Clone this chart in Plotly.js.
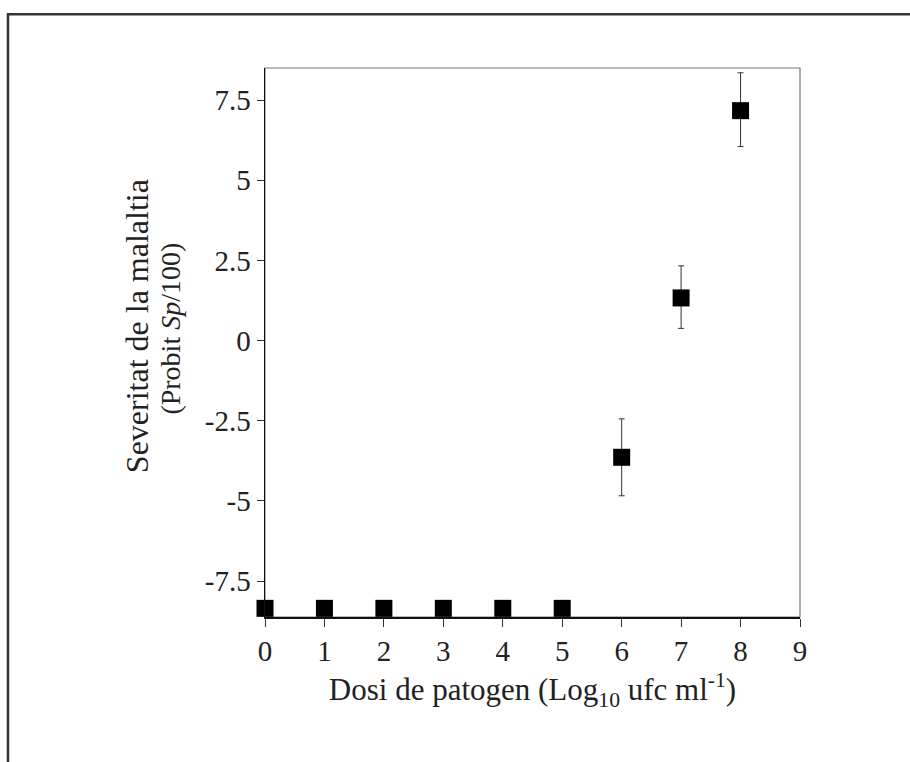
<!DOCTYPE html>
<html>
<head>
<meta charset="utf-8">
<script src="https://cdn.plot.ly/plotly-3.0.1.min.js"></script>
<style>html,body{margin:0;padding:0;background:#fff;}#chart{width:910px;height:762px;}</style>
</head>
<body>
<div id="chart"></div>
<script>
var dose = [0, 1, 2, 3, 4, 5, 6, 7, 8];
var severity = [-8.35, -8.35, -8.35, -8.35, -8.35, -8.35, -3.64, 1.33, 7.17];
var errUp = [0, 0, 0, 0, 0, 0, 1.2, 1.0, 1.18];
var errDown = [0, 0, 0, 0, 0, 0, 1.2, 0.95, 1.12];
var xTicks = [0, 1, 2, 3, 4, 5, 6, 7, 8, 9];
var yTicks = [-7.5, -5, -2.5, 0, 2.5, 5, 7.5];
var yTickText = ['-7.5', '-5', '-2.5', '0', '2.5', '5', '7.5'];

var serif = '"Liberation Serif", "Times New Roman", serif';

var trace = {
  x: dose, y: severity, type: 'scatter', mode: 'markers',
  marker: {symbol: 'square', size: 17, color: '#000'},
  error_y: {type: 'data', symmetric: false, array: errUp, arrayminus: errDown,
            color: '#333', thickness: 1, width: 3},
  cliponaxis: false, showlegend: false
};

var layout = {
  width: 910, height: 762,
  margin: {l: 265, r: 110, t: 68, b: 145},
  paper_bgcolor: '#fff', plot_bgcolor: '#fff',
  font: {family: serif, size: 28, color: '#222'},
  xaxis: {
    range: [0, 9], tickvals: xTicks, ticktext: xTicks.map(String),
    showgrid: false, zeroline: false, showline: true, linecolor: '#111', linewidth: 1.5,
    ticks: 'outside', ticklen: 8, tickwidth: 1, tickcolor: '#333',
    tickfont: {family: serif, size: 29, color: '#222'},
    title: {text: 'Dosi de patogen (Log<sub>10</sub> ufc ml<sup>-1</sup>)', font: {family: serif, size: 31, color: '#222'}, standoff: 12}
  },
  yaxis: {
    range: [-8.62, 8.5], tickvals: yTicks, ticktext: yTickText,
    showgrid: false, zeroline: false, showline: true, linecolor: '#111', linewidth: 1.5,
    ticks: 'outside', ticklen: 7, tickwidth: 1, tickcolor: '#333',
    tickfont: {family: serif, size: 29, color: '#222'}
  },
  shapes: [
    {type: 'rect', xref: 'paper', yref: 'paper', x0: 0, x1: 1, y0: 0, y1: 1,
     line: {color: '#777', width: 1.2}, layer: 'below'},
    {type: 'path', xref: 'paper', yref: 'paper',
     path: 'M -0.4804 -0.3 L -0.4804 1.098 L 1.25 1.098',
     line: {color: '#333', width: 2.5}}
  ],
  annotations: [
    {xref: 'paper', yref: 'paper', x: -0.239, y: 0.53, xanchor: 'center', yanchor: 'middle',
     text: 'Severitat de la malaltia', textangle: -90, showarrow: false,
     font: {family: serif, size: 32, color: '#222'}},
    {xref: 'paper', yref: 'paper', x: -0.176, y: 0.525, xanchor: 'center', yanchor: 'middle',
     text: '(Probit <i>Sp</i>/100)', textangle: -90, showarrow: false,
     font: {family: serif, size: 28, color: '#222'}}
  ]
};

Plotly.newPlot('chart', [trace], layout, {displayModeBar: false, staticPlot: true});
</script>
</body>
</html>
